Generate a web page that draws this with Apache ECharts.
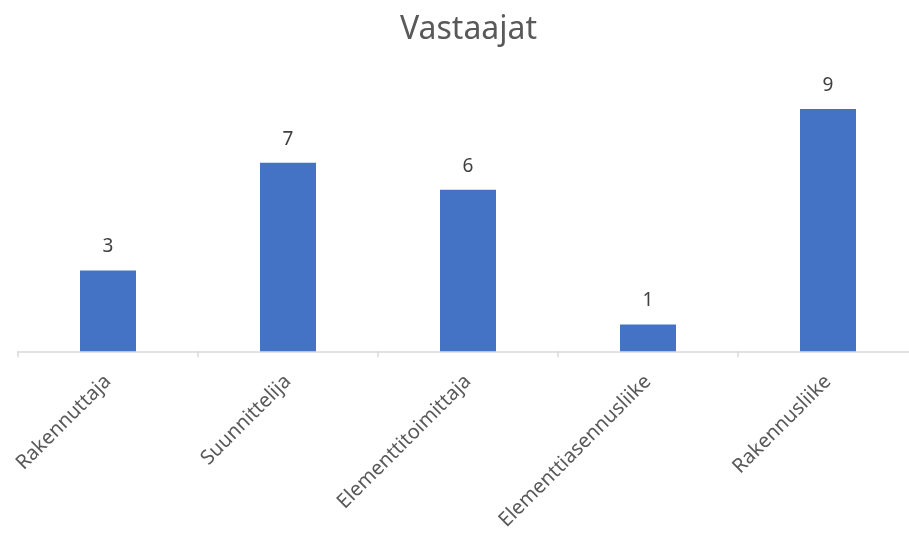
<!DOCTYPE html>
<html><head><meta charset="utf-8">
<script src="https://cdn.jsdelivr.net/npm/echarts@6/dist/echarts.min.js"></script>
<style>html,body{margin:0;padding:0;background:#fff;overflow:hidden}#c{width:930px;height:533px}</style>
</head><body><div id="c"></div>
<script>
const categories = ['Rakennuttaja', 'Suunnittelija', 'Elementtitoimittaja', 'Elementtiasennusliike', 'Rakennusliike'];
const values = [3, 7, 6, 1, 9];
const titleText = 'Vastaajat';
const chart = echarts.init(document.getElementById('c'));
const font = 'Noto Sans';
chart.setOption({
  animation: false,
  title: { text: titleText, left: 395, top: 9, textStyle: { fontFamily: font, fontSize: 32, fontWeight: 'normal', color: '#595959' } },
  grid: { left: 18, right: 12, top: 82, bottom: 179, containLabel: false },
  xAxis: {
    type: 'category', data: categories, boundaryGap: true,
    axisLine: { lineStyle: { color: '#d9d9d9', width: 1.5 } },
    axisTick: { show: true, length: 6, lineStyle: { color: '#d9d9d9', width: 1.5 } },
    axisLabel: { rotate: 45, interval: 0, margin: 27, fontFamily: font, fontSize: 20, color: '#595959' }
  },
  yAxis: { type: 'value', min: 0, max: 10, show: false, splitLine: { show: false } },
  series: [{
    type: 'bar', data: values, barWidth: 56,
    itemStyle: { color: '#4472C4' },
    label: { show: true, position: 'top', distance: 14, fontFamily: font, fontSize: 19, color: '#404040' }
  }]
});
</script></body></html>
